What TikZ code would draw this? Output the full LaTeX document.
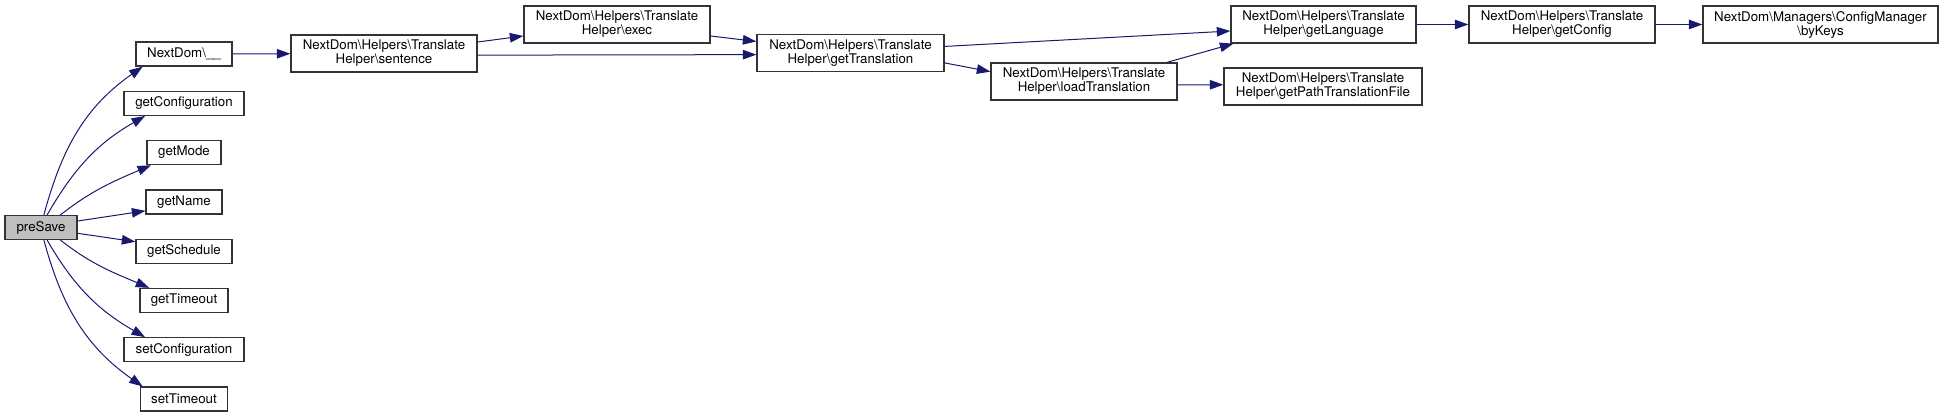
\documentclass[tikz,border=0pt]{standalone}
\usepackage{fontspec}
\setmainfont{TeX Gyre Heros}
\usepackage{xcolor}
\usepackage{tikz}
\usetikzlibrary{arrows.meta,positioning}
\definecolor{dxEdge}{HTML}{191970}
\definecolor{dxLine}{HTML}{333333}
\definecolor{dxFill}{HTML}{BFBFBF}
\newcommand{\bsl}{\textbackslash}
\tikzset{
  fn/.style={draw=dxLine, line width=1.3pt, fill=white, align=center, inner sep=2pt,
    font=\fontsize{13.3}{14}\selectfont, minimum width=#1, minimum height=24pt},
  fn/.default={100pt},
  fntwo/.style={fn=#1, minimum height=37pt},
  fntwo/.default={186pt},
  cur/.style={fn=#1, fill=dxFill},
  call/.style={draw=dxEdge, line width=1pt, -{Triangle[length=13.5pt,width=9.5pt]}},
}
\begin{document}
\begin{tikzpicture}[x=1pt, y=-1pt, node distance=24pt]
\useasboundingbox (0,0) rectangle (1944,417);
% --- caller
\node[cur=72pt] (ps) at (41,227.5) {preSave};
% --- direct callees
\node[fn=96pt] (nd) at (184,54) {NextDom\bsl\_\_};
\node[fn=120pt, below=of nd] (gcf) {getConfiguration};
\node[fn=74pt, below=of gcf] (gm) {getMode};
\node[fn=76pt, below=of gm] (gn) {getName};
\node[fn=96pt, below=of gn] (gs) {getSchedule};
\node[fn=88pt, below=of gs] (gt) {getTimeout};
\node[fn=120pt, below=of gt] (sc) {setConfiguration};
\node[fn=87pt, below=of sc] (st) {setTimeout};
% --- translate helper chain
\node[fntwo] (sen) at (384,53.5) {NextDom\bsl Helpers\bsl Translate\\Helper\bsl sentence};
\node[fntwo] (exec) at (617,24.5) {NextDom\bsl Helpers\bsl Translate\\Helper\bsl exec};
\node[fntwo=187pt] (gtr) at (850.5,53) {NextDom\bsl Helpers\bsl Translate\\Helper\bsl getTranslation};
\node[fntwo] (ltr) at (1084,81.5) {NextDom\bsl Helpers\bsl Translate\\Helper\bsl loadTranslation};
\node[fntwo=185pt] (glang) at (1323.5,24.5) {NextDom\bsl Helpers\bsl Translate\\Helper\bsl getLanguage};
\node[fntwo=198pt] (gpath) at (1323,86.5) {NextDom\bsl Helpers\bsl Translate\\Helper\bsl getPathTranslationFile};
\node[fntwo] (gcfg) at (1562,24.5) {NextDom\bsl Helpers\bsl Translate\\Helper\bsl getConfig};
\node[fntwo=235pt] (bk) at (1820.5,24.5) {NextDom\bsl Managers\bsl ConfigManager\\\bsl byKeys};
% --- calls from preSave
\draw[call] (ps.77) to[out=75, in=215] (nd.197);
\draw[call] (ps.64) to[out=60, in=210] (gcf.198);
\draw[call] (ps.33) to[out=38, in=203] (gm.201);
\draw[call] (ps.10) -- (gn.193);
\draw[call] (ps.-9) -- (gs.169);
\draw[call] (ps.-33) to[out=-38, in=157] (gt.160);
\draw[call] (ps.-64) to[out=-60, in=150] (sc.162);
\draw[call] (ps.-77) to[out=-75, in=145] (st.163);
% --- calls further on
\draw[call] (nd) -- (sen);
\draw[call] (sen.7) -- (exec.187);
\draw[call] (sen.-1) -- (gtr.181);
\draw[call] (exec.-7) -- (gtr.173);
\draw[call] (gtr.4) -- (glang.184);
\draw[call] (gtr.-6) -- (ltr.174);
\draw[call] (ltr.13) -- (glang.192);
\draw[call] (ltr.-2) -- (gpath.179);
\draw[call] (glang) -- (gcfg);
\draw[call] (gcfg) -- (bk);
\end{tikzpicture}
\end{document}
